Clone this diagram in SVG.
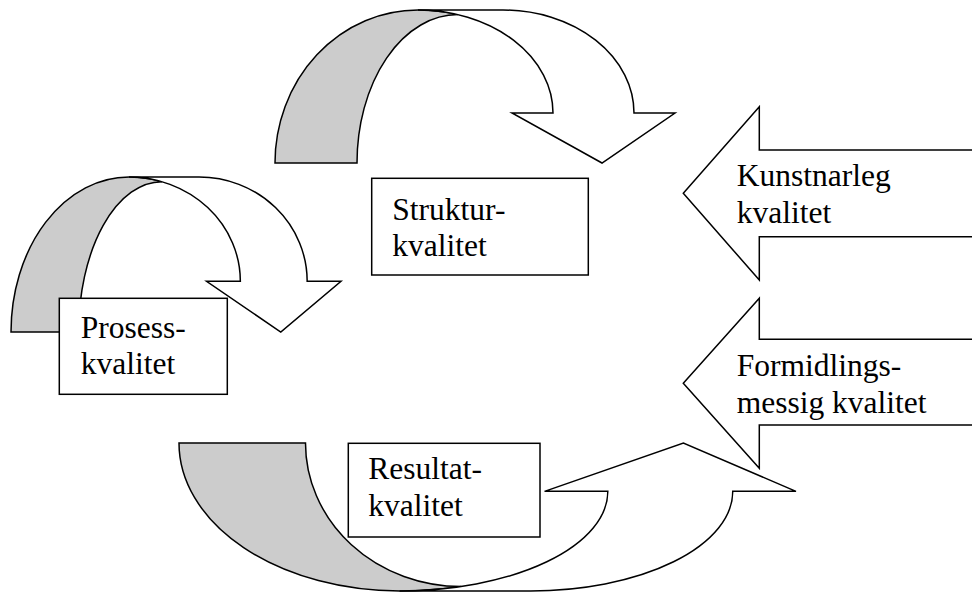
<svg xmlns="http://www.w3.org/2000/svg" xmlns:xlink="http://www.w3.org/1999/xlink" width="972" height="595" viewBox="0 0 972 595">
<style>
.rib{stroke:#000;stroke-width:1.5;stroke-linejoin:miter;vector-effect:non-scaling-stroke}
.gray{fill:#cccccc}
.white{fill:#ffffff}
.box{fill:#fff;stroke:#000;stroke-width:1.5}
.blk{fill:#fff;stroke:#000;stroke-width:1.5;stroke-linejoin:miter}
text{font-family:"Liberation Serif","Times New Roman",serif;font-size:31.5px;fill:#000}
</style>
<defs>
<path id="ribGray" class="rib gray" d="M275,163 A143,153 0 0 1 418,10 A135,103 0 0 1 458,14.6 A101,148.4 0 0 0 357,163 Z"/>
<path id="ribWhite" class="rib white" d="M418,10 L503,10 A131,103 0 0 1 634,113 L675,113 L602,163 L512,113 L553,113 A135,103 0 0 0 418,10 Z"/>
</defs>
<g id="connectors">
<g id="curve-struktur">
<use xlink:href="#ribGray"/>
<use xlink:href="#ribWhite"/>
</g>
<g id="curve-prosess" transform="translate(11,332) scale(0.825,1.013) translate(-275,-163)">
<use xlink:href="#ribGray"/>
<use xlink:href="#ribWhite"/>
</g>
<g id="curve-resultat" transform="translate(179,443) scale(1.5425,-0.967) translate(-275,-163)">
<use xlink:href="#ribGray"/>
<use xlink:href="#ribWhite"/>
</g>
</g>
<g id="node-struktur">
<rect class="box" x="371.7" y="178.3" width="216.6" height="96.7"/>
<text x="392.3" y="219.5">Struktur-</text>
<text x="392.3" y="256">kvalitet</text>
</g>
<g id="node-prosess">
<rect class="box" x="59.3" y="298.3" width="168" height="96"/>
<text x="80.7" y="337.7">Prosess-</text>
<text x="80.7" y="374">kvalitet</text>
</g>
<g id="node-resultat">
<rect class="box" x="348.3" y="443.3" width="191.7" height="93.7"/>
<text x="368.3" y="479.3">Resultat-</text>
<text x="368.3" y="516">kvalitet</text>
</g>
<g id="node-kunstnarleg">
<path class="blk" d="M980,150 L759.3,150 L759.3,106.7 L683.3,193.3 L759.3,280 L759.3,236.7 L980,236.7"/>
<text x="736.7" y="186">Kunstnarleg</text>
<text x="736.7" y="222.7">kvalitet</text>
</g>
<g id="node-formidling">
<path class="blk" d="M980,339.3 L759.3,339.3 L759.3,298.3 L683.3,383.3 L759.3,468.3 L759.3,425 L980,425"/>
<text x="736.7" y="376">Formidlings-</text>
<text x="736.7" y="412.7">messig kvalitet</text>
</g>
</svg>
